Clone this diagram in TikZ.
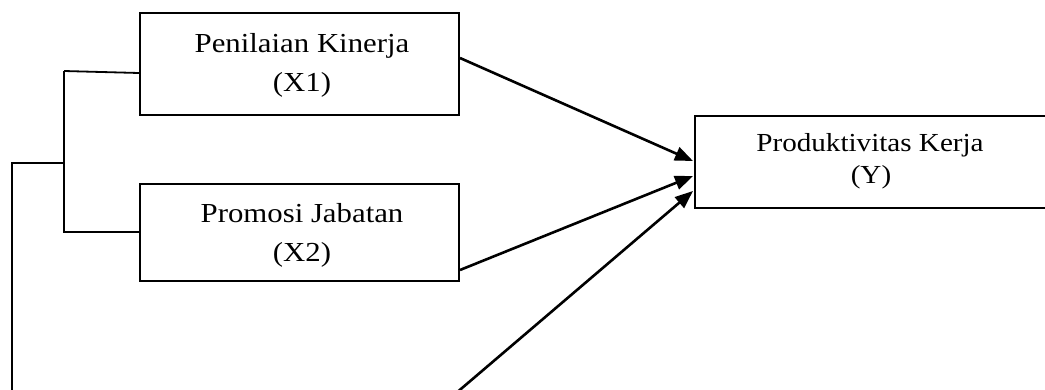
\documentclass[tikz,border=0pt]{standalone}
\usepackage{fontspec}
\setmainfont{Liberation Serif}
\usetikzlibrary{arrows.meta,calc}
\newcommand{\wide}[1]{\scalebox{1.12}[1]{#1}}
\tikzset{
  box/.style={draw, line width=2pt, inner sep=0pt},
  txt/.style={anchor=base, inner sep=0pt, font=\fontsize{27.5}{31}\selectfont},
  txty/.style={anchor=base, inner sep=0pt, font=\fontsize{26}{30}\selectfont},
  arr/.style={line width=2.6pt, -{Triangle[length=18pt,width=14pt]}},
  link/.style={line width=1.8pt}
}
\begin{document}
\begin{tikzpicture}[x=1pt,y=-1pt]
\useasboundingbox (0,0) rectangle (1045,389);
\clip (0,0) rectangle (1045,389);
\fill[white] (0,0) rectangle (1045,389);
% boxes
\node[box, minimum width=319pt, minimum height=102pt] (X1) at (299.5,64) {};
\node[box, minimum width=319pt, minimum height=97pt] (X2) at (299.5,232.5) {};
\node[box, minimum width=380pt, minimum height=92pt] (Y) at (885,161.5) {};
% texts
\node[txt] (t1a) at (302,52) {\wide{Penilaian Kinerja}};
\node[txt] (t1b) at (302,91) {\wide{(X1)}};
\node[txt] (t2a) at (302,222) {\wide{Promosi Jabatan}};
\node[txt] (t2b) at (302,261) {\wide{(X2)}};
\node[txty] (tya) at (870,151) {\wide{Produktivitas Kerja}};
\node[txty] (tyb) at (871,183) {\wide{(Y)}};
% bracket
\coordinate (b1) at (64,71);
\coordinate (b2) at (64,232);
\coordinate (b3) at (64,163);
\coordinate (b4) at (12,163);
\coordinate (b5) at (12,400);
\draw[link] (b1) -- ($(X1.west)+(0,9)$);
\draw[link] (b1) -- (b2) -- (X2.west |- b2);
\draw[link] (b3) -- (b4) -- (b5);
% arrows
\coordinate (c3) at (448,400);
\draw[arr] ($(X1.east)+(0,-6)$) -- ($(Y.west)+(-1,-0.5)$);
\draw[arr] ($(X2.south east)+(0,-12)$) -- ($(Y.west)+(-1,14.5)$);
\draw[arr] (c3) -- ($(Y.west)+(-1,29.5)$);
\end{tikzpicture}
\end{document}
